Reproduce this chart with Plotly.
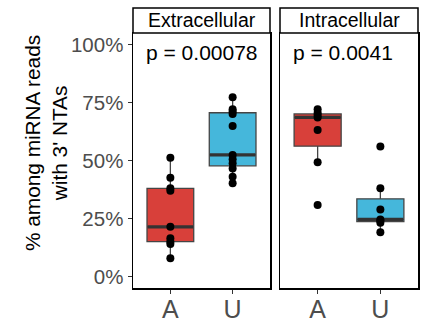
import numpy as np
import plotly.graph_objects as go

# ---------------- data ----------------
panels = ["Extracellular", "Intracellular"]
categories = ["A", "U"]
p_labels = ["p = 0.00078", "p = 0.0041"]

extra_A = [0.078, 0.140, 0.150, 0.165, 0.214, 0.370, 0.380, 0.426, 0.512]
extra_U = [0.402, 0.430, 0.466, 0.488, 0.505, 0.524, 0.649, 0.701, 0.711, 0.721, 0.773]
intra_A = [0.308, 0.492, 0.632, 0.686, 0.696, 0.706, 0.721]
intra_U = [0.190, 0.232, 0.240, 0.246, 0.289, 0.380, 0.560]

values = {
    ("Extracellular", "A"): extra_A,
    ("Extracellular", "U"): extra_U,
    ("Intracellular", "A"): intra_A,
    ("Intracellular", "U"): intra_U,
}
y_ticks = [0, 0.25, 0.5, 0.75, 1.0]
y_ticktext = ["0%", "25%", "50%", "75%", "100%"]

fill_colors = {"A": "#D8403A", "U": "#45B7DB"}
FONT = "Liberation Sans, Arial, Helvetica, sans-serif"

# ---------------- geometry ----------------
W, H = 421, 322
ml, mr, mt, mb = 133, 3, 33, 34
pw = W - ml - mr
ph = H - mt - mb
dom1 = [0, 137 / pw]
dom2 = [147 / pw, 1]
strip_h = 25 / ph
box_w = 0.75


def box_stats(v):
    v = np.sort(np.asarray(v, dtype=float))
    q1, med, q3 = np.quantile(v, [0.25, 0.5, 0.75])
    iqr = q3 - q1
    lo = v[v >= q1 - 1.5 * iqr].min()
    hi = v[v <= q3 + 1.5 * iqr].max()
    return q1, med, q3, lo, hi


fig = go.Figure()
for pi, panel in enumerate(panels):
    xa = "x" if pi == 0 else "x2"
    ya = "y" if pi == 0 else "y2"
    for ci, cat in enumerate(categories):
        v = values[(panel, cat)]
        q1, med, q3, lo, hi = box_stats(v)
        fig.add_trace(go.Box(
            x=[ci], q1=[q1], median=[med], q3=[q3],
            lowerfence=[lo], upperfence=[hi],
            width=box_w, whiskerwidth=0,
            fillcolor=fill_colors[cat],
            line=dict(color="#454545", width=1.3),
            boxpoints=False, showlegend=False,
            xaxis=xa, yaxis=ya, hoverinfo="skip",
        ))
        # thicker median line (ggplot fatten)
        fig.add_trace(go.Scatter(
            x=[ci - box_w / 2 + 0.01, ci + box_w / 2 - 0.01], y=[med, med],
            mode="lines", line=dict(color="#333333", width=3.2),
            showlegend=False, xaxis=xa, yaxis=ya, hoverinfo="skip",
        ))
        fig.add_trace(go.Scatter(
            x=[ci] * len(v), y=v, mode="markers",
            marker=dict(color="black", size=8),
            showlegend=False, xaxis=xa, yaxis=ya, hoverinfo="skip",
        ))
    # p-value label
    fig.add_annotation(
        x=-0.42, y=0.964, xref=xa, yref=ya, text=p_labels[pi],
        showarrow=False, xanchor="left", yanchor="middle",
        font=dict(family=FONT, size=21, color="black"),
    )
    # strip
    dom = dom1 if pi == 0 else dom2
    fig.add_shape(type="rect", xref="paper", yref="paper",
                  x0=dom[0], x1=dom[1], y0=1, y1=1 + strip_h,
                  line=dict(color="black", width=1.5), fillcolor="white")
    fig.add_annotation(
        x=(dom[0] + dom[1]) / 2, y=1 + strip_h / 2, xref="paper", yref="paper",
        text=panel, showarrow=False, xanchor="center", yanchor="middle",
        font=dict(family=FONT, size=19.5, color="black"),
    )

# y title
fig.add_annotation(
    x=(46 - ml) / pw, y=(H - mb - 143) / ph, xref="paper", yref="paper",
    text="% among miRNA reads<br>with 3' NTAs", textangle=-90,
    showarrow=False, xanchor="center", yanchor="middle",
    font=dict(family=FONT, size=20.8, color="black"),
)

xcommon = dict(
    range=[-0.6, 1.6], tickvals=list(range(len(categories))), ticktext=categories,
    showline=True, linecolor="black", linewidth=1.5, mirror=True,
    ticks="outside", ticklen=4, tickcolor="#333333", tickwidth=1,
    tickfont=dict(family=FONT, size=25, color="#4D4D4D"),
    ticklabelstandoff=-6,
    showgrid=False, zeroline=False, fixedrange=True, automargin=False,
)
fig.update_layout(
    width=W, height=H,
    margin=dict(l=ml, r=mr, t=mt, b=mb, autoexpand=False),
    paper_bgcolor="white", plot_bgcolor="white",
    xaxis=dict(domain=dom1, anchor="y", **xcommon),
    xaxis2=dict(domain=dom2, anchor="y2", **xcommon),
    yaxis=dict(
        range=[-0.05, 1.05], tickvals=y_ticks, ticktext=y_ticktext,
        showline=True, linecolor="black", linewidth=1.5, mirror=True,
        ticks="outside", ticklen=4, tickcolor="#333333", tickwidth=1,
        tickfont=dict(family=FONT, size=20.5, color="#4D4D4D"),
        showgrid=False, zeroline=False, automargin=False,
    ),
    yaxis2=dict(
        range=[-0.05, 1.05], matches="y", anchor="x2",
        showline=True, linecolor="black", linewidth=1.5, mirror=True,
        showticklabels=False, ticks="", showgrid=False, zeroline=False,
        automargin=False,
    ),
)

fig.write_html(
    "out.html",
    config={"displayModeBar": False, "staticPlot": True},
    post_script="document.body.style.margin='0';document.body.style.overflow='hidden';",
)
